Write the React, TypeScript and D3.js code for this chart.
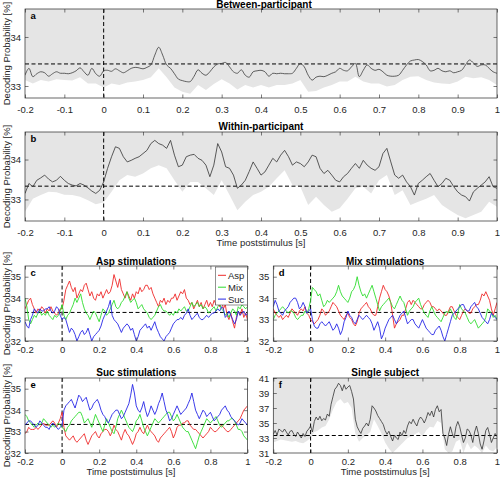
import React, { useEffect, useRef } from "react";
import * as d3 from "d3";

// time axes (s)
const tFine = d3.range(121).map((i) => +(-0.2 + i * 0.01).toFixed(2));
const tCoarse = d3.range(61).map((i) => +(-0.2 + i * 0.02).toFixed(2));

const xTicksA = d3.range(13).map((i) => +(-0.2 + i * 0.1).toFixed(1));
const xTicksC = [-0.2, 0, 0.2, 0.4, 0.6, 0.8, 1];
const yTicksAB = [33, 34];
const yTicksCDE = [32, 33, 34, 35];
const yTicksF = [31, 33, 35, 37, 39, 41];
const legendLabels = ["Asp", "Mix", "Suc"];

// Panel a: between-participant (mean) and lower permutation bound
const aLine = [
  33.22, 33.36, 33.19, 33.25, 33.29, 33.27, 33.2, 33.25, 33.29, 33.26,
  33.26, 33.25, 33.27, 33.31, 33.37, 33.29, 33.22, 33.36, 33.25, 33.2,
  33.31, 33.32, 33.3, 33.35, 33.31, 33.27, 33.31, 33.36, 33.38, 33.37,
  33.35, 33.38, 33.43, 33.63, 33.79, 33.63, 33.43, 33.36, 33.25, 33.14,
  33.11, 33.09, 33.09, 33.2, 33.33, 33.26, 33.22, 33.29, 33.39, 33.45,
  33.46, 33.48, 33.39, 33.29, 33.26, 33.33, 33.22, 33.18, 33.29, 33.31,
  33.32, 33.29, 33.2, 33.26, 33.25, 33.26, 33.25, 33.25, 33.26, 33.36,
  33.46, 33.39, 33.22, 33.12, 33.18, 33.2, 33.19, 33.22, 33.26, 33.29,
  33.36, 33.32, 33.31, 33.39, 33.46, 33.19, 33.32, 33.43, 33.36, 33.32,
  33.34, 33.29, 33.22, 33.2, 33.2, 33.22, 33.32, 33.43, 33.51, 33.53,
  33.54, 33.5, 33.43, 33.31, 33.32, 33.36, 33.31, 33.29, 33.31, 33.27,
  33.29, 33.32, 33.43, 33.53, 33.47, 33.4, 33.43, 33.43, 33.36, 33.29,
  33.26,
];
const aLow = [
  33.12, 33.05, 33.12, 33.09, 33.14, 33.12, 33.11, 33.18, 33.05, 33.05,
  32.97, 33.05, 33.02, 33.07, 33.09, 33.12, 33.18, 33.36, 33.18, 32.97,
  32.88, 32.84, 33.02, 32.92, 33.04, 33.14, 33.05, 32.93, 33.02, 32.97,
  33.02, 32.97, 33.02, 33.02, 33.05, 33.12, 32.88, 32.9, 32.97, 33.02,
  33.09, 33.09, 33.19, 33.09, 33.05, 33.05, 32.99, 33.02, 33.12, 33.19,
  33.2, 33.12, 33.07, 33.05, 33.04, 33.09, 33.19, 33.16, 33.18, 33.12,
  33.02,
];

// Panel b: within-participant
const bLine = [
  33.15, 33.4, 33.32, 33.48, 33.54, 33.61, 33.51, 33.44, 33.48, 33.58,
  33.48, 33.4, 33.36, 33.34, 33.4, 33.36, 33.29, 33.21, 33.15, 33.23,
  33.44, 33.78, 34.07, 34.32, 34.28, 34.07, 33.94, 33.98, 34.03, 34.07,
  34.15, 34.23, 34.4, 34.48, 34.4, 34.36, 34.28, 34.48, 34.11, 33.82,
  33.86, 34.07, 34.11, 34.13, 34.03, 33.98, 33.86, 33.57, 33.86, 34.4,
  34.19, 33.82, 33.78, 33.61, 33.28, 33.36, 33.48, 33.7, 33.94, 33.78,
  33.61, 33.69, 33.86, 34.03, 33.94, 34.11, 34.23, 34.07, 33.86, 33.94,
  33.9, 33.82, 33.94, 34.11, 34.07, 33.78, 33.65, 33.73, 33.61, 33.48,
  33.44, 33.57, 33.65, 33.78, 33.9, 33.78, 33.98, 33.86, 33.78, 33.73,
  33.82, 34.15, 34.28, 33.94, 33.61, 33.53, 33.61, 33.44, 33.32, 33.11,
  33.4, 33.48, 33.57, 33.65, 33.48, 33.32, 33.4, 33.53, 33.48, 33.32,
  33.19, 33.11, 33.07, 32.96, 33.19, 33.28, 33.36, 33.44, 33.57, 33.32,
  33.28,
];
const bLow = [
  32.69, 33.02, 33.11, 33.19, 33.18, 33.12, 33.11, 33.07, 32.98, 32.88,
  32.93, 33.19, 33.48, 33.61, 33.57, 33.65, 33.78, 33.86, 33.78, 33.48,
  33.19, 33.44, 33.44, 33.28, 33.11, 33.48, 33.11, 32.73, 32.94, 33.11,
  33.19, 33.32, 33.53, 33.73, 33.36, 33.32, 32.86, 33.07, 32.86, 32.69,
  32.78, 33.02, 33.28, 33.32, 33.15, 33.48, 33.61, 33.11, 33.23, 32.86,
  32.94, 33.02, 33.11, 32.86, 32.73, 32.61, 32.53, 32.61, 32.69, 32.94,
  32.82,
];

// Panel c: Asp stimulations
const cAsp = [
  33.5, 33.7, 33.9, 34.0, 33.7, 33.5, 33.3, 33.5, 33.4, 33.6,
  33.5, 33.3, 33.5, 33.4, 33.6, 33.4, 33.3, 33.2, 33.3, 33.5,
  33.5, 33.9, 34.4, 34.6, 34.8, 34.5, 34.3, 34.5, 34.0, 34.2,
  34.4, 34.3, 34.6, 34.7, 34.4, 34.1, 34.3, 34.0, 33.9, 34.2,
  34.1, 34.3, 34.0, 34.2, 34.4, 34.2, 34.3, 34.6, 35.1, 34.8,
  34.5, 34.9, 34.4, 34.2, 34.0, 34.3, 34.1, 33.9, 34.2, 34.0,
  34.3, 34.2, 34.5, 34.3, 34.4, 34.6, 34.6, 34.4, 34.5, 34.2,
  34.0, 33.8, 33.6, 33.9, 33.8, 34.0, 33.7, 33.9, 33.8, 34.0,
  34.0, 34.2, 33.9, 34.1, 34.3, 34.2, 34.4, 34.0, 33.9, 33.7,
  33.8, 33.5, 33.7, 33.9, 33.6, 33.8, 33.5, 33.7, 33.9, 33.6,
  33.8, 33.6, 33.9, 33.7, 33.8, 33.6, 33.9, 33.5, 33.7, 33.2,
  33.0, 33.3, 32.9, 32.6, 33.1, 33.4, 33.2, 33.5, 33.1, 33.3,
  33.0,
];
const cMix = [
  34.0, 33.6, 33.0, 32.8, 33.0, 33.2, 33.1, 33.3, 33.4, 33.2,
  33.3, 33.2, 33.4, 33.2, 33.1, 33.0, 33.2, 33.1, 33.2, 33.4,
  33.7, 33.2, 33.0, 33.2, 33.3, 33.5, 33.7, 34.0, 33.8, 34.0,
  34.2, 33.8, 33.5, 33.3, 33.2, 33.0, 33.2, 33.4, 33.3, 33.1,
  32.9, 33.2, 33.5, 33.4, 33.2, 33.3, 33.5, 33.7, 33.9, 33.6,
  33.5, 33.6, 33.8, 33.9, 34.1, 34.3, 34.0, 33.8, 33.9, 34.0,
  33.8, 33.5, 33.6, 33.7, 33.5, 33.4, 33.3, 33.1, 33.0, 33.1,
  33.2, 33.4, 33.6, 33.7, 33.5, 33.4, 33.4, 33.3, 33.2, 33.3,
  33.2, 33.4, 33.3, 33.5, 33.4, 33.5, 33.6, 33.4, 33.4, 33.6,
  33.8, 33.6, 33.7, 33.8, 33.6, 33.7, 33.5, 33.6, 33.5, 33.3,
  33.4, 33.5, 33.6, 33.4, 33.6, 33.7, 33.5, 33.4, 33.2, 33.3,
  33.1, 33.3, 33.5, 33.4, 33.2, 33.6, 33.5, 33.7, 33.6, 33.5,
  33.6,
];
const cSuc = [
  32.9, 32.7, 32.6, 33.0, 33.2, 33.5, 33.4, 33.3, 33.5, 33.4,
  33.4, 33.5, 33.5, 33.6, 33.4, 33.3, 33.4, 33.6, 33.5, 33.2,
  33.0, 33.1, 33.0, 32.7, 32.4, 32.6, 32.5, 32.3, 32.0, 32.2,
  32.4, 32.5, 32.3, 32.4, 32.6, 32.3, 32.0, 32.2, 32.3, 32.4,
  32.5, 32.7, 33.0, 33.2, 33.4, 33.6, 33.9, 33.2, 33.0, 32.9,
  32.8, 32.6, 32.4, 32.6, 32.7, 32.8, 32.7, 32.5, 32.6, 32.3,
  32.0, 32.2, 32.5, 32.6, 32.7, 32.8, 32.6, 32.7, 32.5, 32.7,
  32.9, 32.6, 32.4, 32.2, 32.1, 32.0, 32.2, 32.3, 32.4, 32.6,
  32.8, 32.9, 33.0, 33.0, 33.1, 33.0, 33.2, 33.3, 33.5, 33.2,
  33.0, 33.1, 33.2, 33.3, 33.1, 33.0, 33.0, 33.1, 33.2, 33.1,
  33.2, 33.3, 33.3, 33.4, 33.5, 33.4, 33.6, 33.5, 33.1, 33.2,
  33.4, 33.2, 33.0, 32.8, 33.0, 33.4, 33.2, 33.3, 33.4, 33.2,
  33.3,
];

// Panel d: Mix stimulations
const dAsp = [
  33.5, 33.3, 33.2, 33.1, 33.2, 33.0, 33.1, 33.2, 33.1, 33.3,
  33.5, 33.4, 33.3, 33.2, 33.4, 33.5, 33.4, 33.6, 33.3, 33.2,
  33.0, 32.9, 32.8, 32.9, 33.0, 33.2, 33.5, 33.4, 33.2, 33.3,
  33.4, 33.6, 33.8, 33.7, 33.6, 33.4, 33.2, 33.1, 33.0, 33.2,
  33.3, 33.1, 33.0, 32.8, 32.7, 32.9, 33.3, 33.5, 33.6, 33.7,
  33.8, 33.6, 33.5, 33.3, 33.2, 33.2, 33.6, 34.0, 34.3, 34.6,
  34.4, 34.3, 34.1, 33.8, 33.2, 32.6, 32.8, 32.9, 33.0, 33.2,
  33.2, 33.5, 33.8, 33.9, 33.7, 33.9, 33.8, 33.7, 33.6, 33.5,
  33.5, 33.7, 33.8, 33.9, 33.8, 33.6, 33.6, 33.5, 33.4, 33.5,
  33.4, 33.3, 33.2, 33.2, 33.4, 33.6, 33.6, 33.4, 33.2, 33.1,
  33.0, 33.2, 33.4, 33.5, 33.4, 33.3, 33.3, 33.5, 33.6, 33.7,
  33.7, 33.9, 34.2, 34.1, 34.3, 34.1, 33.9, 33.5, 33.2, 33.5,
  33.8,
];
const dMix = [
  33.0, 33.2, 33.3, 33.4, 33.5, 33.6, 33.5, 33.4, 33.3, 33.4,
  33.4, 33.3, 33.1, 33.0, 33.1, 33.2, 33.2, 33.4, 33.3, 33.5,
  33.9, 34.5, 34.4, 34.3, 34.1, 34.2, 33.9, 33.6, 33.7, 33.9,
  33.8, 33.9, 34.0, 34.1, 34.3, 34.6, 34.3, 34.1, 34.0, 33.9,
  33.8, 34.0, 34.3, 34.4, 34.6, 35.0, 34.6, 34.3, 34.1, 34.2,
  34.0, 34.2, 34.4, 34.6, 34.3, 34.0, 33.7, 33.4, 33.6, 33.7,
  33.8, 33.9, 34.0, 33.8, 33.6, 33.5, 33.7, 33.9, 34.1, 33.9,
  33.8, 33.5, 33.2, 33.4, 33.5, 33.6, 33.8, 33.9, 34.0, 33.7,
  33.5, 33.3, 33.2, 33.1, 33.4, 33.6, 33.4, 33.2, 33.1, 33.0,
  32.9, 33.1, 33.3, 33.4, 33.3, 33.5, 33.3, 33.1, 33.0, 33.3,
  33.7, 33.5, 33.4, 33.3, 33.1, 32.9, 32.8, 32.9, 33.0, 32.8,
  32.6, 32.7, 32.8, 32.9, 33.1, 33.5, 33.4, 33.3, 33.1, 33.2,
  33.0,
];
const dSuc = [
  33.6, 33.9, 33.7, 33.4, 33.3, 33.2, 33.4, 33.5, 33.6, 33.8,
  33.9, 34.0, 34.0, 33.8, 33.5, 33.6, 33.8, 33.6, 33.3, 33.4,
  33.5, 33.0, 32.7, 32.6, 32.6, 32.8, 32.9, 32.8, 32.7, 32.8,
  32.9, 32.7, 32.5, 32.6, 32.8, 32.6, 32.3, 32.5, 32.9, 33.1,
  33.4, 33.2, 33.1, 32.9, 32.8, 33.0, 33.2, 33.1, 33.0, 33.1,
  33.2, 33.1, 33.0, 32.8, 32.5, 32.7, 32.9, 32.6, 32.1, 32.3,
  32.6, 32.8, 33.0, 33.1, 33.2, 33.0, 32.8, 33.0, 33.2, 33.3,
  33.4, 33.1, 32.8, 32.9, 33.0, 33.0, 32.8, 32.7, 32.6, 32.8,
  33.0, 32.8, 32.6, 32.5, 32.4, 32.3, 32.3, 32.5, 32.6, 32.7,
  32.5, 32.2, 32.0, 32.3, 32.6, 32.9, 33.2, 33.3, 33.4, 33.5,
  33.6, 33.7, 33.7, 33.5, 33.4, 33.4, 33.6, 33.7, 33.8, 33.6,
  33.5, 33.3, 33.1, 33.0, 32.9, 32.8, 33.0, 33.3, 33.2, 33.1,
  33.0,
];

// Panel e: Suc stimulations
const eAsp = [
  32.9, 33.0, 33.2, 33.1, 33.1, 33.1, 33.2, 33.1, 33.2, 33.3,
  33.4, 33.3, 33.3, 33.3, 33.4, 33.5, 33.4, 33.2, 33.4, 33.6,
  33.9, 33.2, 32.8, 32.7, 32.6, 32.7, 32.8, 32.6, 32.5, 32.6,
  32.7, 32.8, 32.9, 32.6, 32.4, 32.6, 32.8, 32.9, 33.0, 32.8,
  32.7, 32.9, 33.0, 33.1, 33.1, 33.0, 32.8, 33.0, 33.3, 33.1,
  33.0, 32.8, 32.6, 32.9, 33.1, 32.9, 32.8, 32.6, 32.4, 32.6,
  32.9, 33.0, 33.2, 33.0, 32.9, 33.1, 33.3, 33.1, 33.0, 32.9,
  32.8, 32.6, 32.5, 32.7, 32.8, 32.9, 33.0, 33.1, 33.2, 33.0,
  32.7, 32.9, 33.2, 33.3, 33.3, 33.4, 33.4, 33.5, 33.5, 33.3,
  33.2, 33.1, 33.1, 33.0, 32.9, 32.8, 32.7, 32.8, 32.9, 33.0,
  33.2, 33.1, 33.0, 33.0, 33.1, 33.2, 33.3, 33.2, 33.1, 33.0,
  33.0, 33.1, 33.2, 33.3, 33.4, 33.5, 33.6, 33.8, 34.0, 34.1,
  34.2,
];
const eMix = [
  33.8, 33.7, 33.5, 33.4, 33.3, 33.2, 33.3, 33.4, 33.3, 33.4,
  33.6, 33.5, 33.4, 33.3, 33.2, 33.3, 33.2, 33.3, 33.4, 33.3,
  33.2, 33.1, 33.0, 33.2, 33.3, 33.5, 33.6, 33.7, 33.8, 33.9,
  33.9, 33.7, 33.4, 33.5, 33.6, 33.4, 33.2, 33.5, 33.8, 33.6,
  33.4, 33.2, 33.0, 33.3, 33.6, 33.4, 33.2, 33.0, 32.9, 33.2,
  33.6, 33.8, 34.0, 33.8, 33.6, 33.4, 33.2, 33.1, 33.0, 33.2,
  33.5, 33.6, 33.8, 33.5, 33.2, 33.0, 32.8, 33.0, 33.2, 33.4,
  33.6, 33.5, 33.4, 33.5, 33.6, 33.7, 33.8, 33.9, 33.9, 33.7,
  33.5, 33.6, 33.8, 33.6, 33.4, 33.2, 33.1, 33.0, 33.0, 32.8,
  32.6, 32.4, 32.2, 32.5, 32.8, 33.0, 33.2, 33.4, 33.6, 33.5,
  33.4, 33.5, 33.6, 33.7, 33.5, 33.3, 33.2, 33.3, 33.4, 33.5,
  33.5, 33.6, 33.6, 33.5, 33.3, 33.1, 33.1, 33.0, 32.8, 32.7,
  32.6,
];
const eSuc = [
  33.3, 33.4, 33.5, 33.5, 33.4, 33.3, 33.2, 33.3, 33.5, 33.4,
  33.3, 33.2, 33.2, 33.1, 33.3, 33.4, 33.3, 33.2, 33.1, 33.2,
  33.3, 34.0, 34.2, 34.3, 34.4, 34.5, 34.3, 34.1, 34.4, 34.7,
  34.6, 34.4, 34.5, 34.6, 34.3, 34.0, 34.1, 34.3, 34.4, 34.5,
  34.3, 34.0, 33.8, 33.7, 33.5, 33.4, 33.6, 33.8, 33.9, 34.0,
  34.0, 33.8, 33.6, 33.7, 33.9, 34.1, 34.3, 34.7, 35.2, 34.8,
  34.2, 34.0, 33.9, 34.1, 34.4, 34.0, 33.7, 33.9, 34.2, 34.0,
  33.8, 34.0, 34.3, 34.5, 34.8, 34.4, 34.0, 33.8, 33.5, 33.6,
  33.8, 34.0, 34.2, 34.0, 33.8, 33.9, 34.0, 34.1, 34.3, 34.5,
  34.8, 34.4, 34.0, 33.8, 33.6, 33.8, 34.0, 33.9, 33.7, 33.8,
  33.9, 33.7, 33.5, 33.6, 33.7, 33.8, 34.0, 34.1, 34.2, 34.0,
  33.9, 33.7, 33.6, 33.5, 33.4, 33.3, 33.4, 33.6, 33.5, 33.4,
  33.3,
];

// Panel f: single subject
const fLine = [
  33.5, 34.0, 33.4, 34.2, 34.0, 33.8, 34.2, 33.8, 33.4, 33.9,
  34.0, 33.5, 33.2, 33.8, 33.4, 33.0, 33.6, 33.2, 33.9, 34.2,
  34.6, 33.8, 35.2, 35.8, 35.4, 35.9, 35.3, 35.6, 35.4, 36.2,
  35.9, 37.5, 38.5, 39.5, 39.8, 40.3, 40.0, 39.3, 40.1, 39.5,
  39.8, 40.0, 39.2, 38.2, 35.5, 34.5, 34.0, 33.6, 34.3, 34.6,
  35.0, 34.6, 35.5, 37.3, 37.0, 36.6, 36.0, 35.6, 35.2, 34.8,
  34.0, 33.5, 33.9, 33.2, 32.6, 33.4, 33.0, 32.8, 33.8, 33.3,
  34.0, 33.6, 34.6, 35.2, 34.9, 35.5, 35.0, 34.6, 35.4, 35.8,
  35.5, 35.0, 35.6, 36.4, 36.0, 36.6, 35.8, 36.8, 37.3, 36.5,
  36.8, 33.6, 33.0, 32.0, 33.5, 34.5, 33.6, 33.0, 34.5, 35.2,
  34.5, 33.4, 32.4, 33.0, 34.2, 34.0, 33.4, 32.4, 33.8, 34.6,
  33.6, 32.2, 31.5, 32.6, 34.0, 34.4, 33.5, 32.4, 33.0, 33.6,
  33.2,
];
const fLow = [
  32.4, 32.6, 32.8, 32.7, 32.6, 32.5, 32.6, 32.4, 32.3, 32.6,
  33.0, 33.8, 34.0, 34.4, 34.6, 35.5, 36.8, 37.8, 38.2, 37.6,
  37.8, 37.0, 33.6, 32.5, 33.0, 33.4, 33.8, 35.5, 34.6, 33.6,
  32.4, 31.6, 31.0, 31.5, 32.0, 32.5, 33.0, 33.2, 33.5, 33.8,
  33.2, 34.0, 34.5, 34.4, 35.3, 35.0, 31.5, 31.0, 31.2, 32.5,
  32.8, 31.0, 32.4, 31.5, 32.0, 31.6, 31.0, 32.0, 31.4, 31.2,
  31.8,
];

const RED = "#ee2a2a";
const GREEN = "#2edc2e";
const BLUE = "#2626e6";
const DARK = "#333333";
const AX = "#262626";
const FONT = "'Liberation Sans', Arial, Helvetica, sans-serif";

type Series = { values: number[]; color: string; width: number; smooth?: boolean };
type Panel = {
  id: string;
  left: number; right: number; top: number; bottom: number;
  yDomain: [number, number];
  yTicks: number[];
  xTicks: number[];
  xPad: number;
  chance: number;
  low?: number[];
  series: Series[];
  title: string; titleY: number; titleX?: number;
  letter: string; letterY: number;
  ylabel?: boolean;
  xlabelY?: number; xlabelX?: number;
  legend?: boolean;
};

const panels: Panel[] = [
  {
    id: "a", left: 25, right: 497, top: 9, bottom: 98,
    yDomain: [32.755, 34.571], yTicks: yTicksAB, xTicks: xTicksA, xPad: 8.5,
    chance: 33.45, low: aLow,
    series: [{ values: aLine, color: "#3c3c3c", width: 0.8, smooth: true }],
    title: "Between-participant", titleY: 8, titleX: 264, letter: "a", letterY: 19, ylabel: true,
  },
  {
    id: "b", left: 25, right: 497, top: 132, bottom: 221,
    yDomain: [32.46, 34.69], yTicks: yTicksAB, xTicks: xTicksA, xPad: 7.8,
    chance: 33.333, low: bLow,
    series: [{ values: bLine, color: DARK, width: 0.8 }],
    title: "Within-participant", titleY: 129.5, letter: "b", letterY: 141.5, ylabel: true,
    xlabelY: 245.5,
  },
  {
    id: "c", left: 25, right: 247.5, top: 266, bottom: 341,
    yDomain: [32, 35.5], yTicks: yTicksCDE, xTicks: xTicksC, xPad: 5.7,
    chance: 33.333,
    series: [
      { values: cAsp, color: RED, width: 0.9 },
      { values: cMix, color: GREEN, width: 0.9 },
      { values: cSuc, color: BLUE, width: 0.9 },
    ],
    title: "Asp stimulations", titleY: 264.5, letter: "c", letterY: 276, ylabel: true, legend: true,
  },
  {
    id: "d", left: 273.3, right: 497, top: 266, bottom: 341,
    yDomain: [32, 35.5], yTicks: yTicksCDE, xTicks: xTicksC, xPad: 5.7,
    chance: 33.333,
    series: [
      { values: dAsp, color: RED, width: 0.9 },
      { values: dMix, color: GREEN, width: 0.9 },
      { values: dSuc, color: BLUE, width: 0.9 },
    ],
    title: "Mix stimulations", titleY: 264.5, letter: "d", letterY: 276,
  },
  {
    id: "e", left: 25, right: 247.5, top: 378, bottom: 453,
    yDomain: [32, 35.5], yTicks: yTicksCDE, xTicks: xTicksC, xPad: 5.7,
    chance: 33.333,
    series: [
      { values: eAsp, color: RED, width: 0.9 },
      { values: eMix, color: GREEN, width: 0.9 },
      { values: eSuc, color: BLUE, width: 0.9 },
    ],
    title: "Suc stimulations", titleY: 376, letter: "e", letterY: 388, ylabel: true,
    xlabelY: 475, xlabelX: 131,
  },
  {
    id: "f", left: 273.3, right: 497, top: 378, bottom: 453,
    yDomain: [31, 41], yTicks: yTicksF, xTicks: xTicksC, xPad: 5.7,
    chance: 33.333, low: fLow,
    series: [{ values: fLine, color: DARK, width: 0.8 }],
    title: "Single subject", titleY: 376, letter: "f", letterY: 388,
    xlabelY: 475,
  },
];

const fmtX = (v: number) => (Math.abs(v) < 1e-9 ? "0" : String(+v.toFixed(1)));

function drawPanel(svg: d3.Selection<SVGSVGElement, unknown, null, undefined>, p: Panel) {
  const x = d3.scaleLinear().domain([-0.2, 1]).range([p.left, p.right]);
  const y = d3.scaleLinear().domain(p.yDomain).range([p.bottom, p.top]);
  const g = svg.append("g");
  const clipId = "clip-" + p.id;
  svg.append("defs").append("clipPath").attr("id", clipId).append("rect")
    .attr("x", p.left).attr("y", p.top)
    .attr("width", p.right - p.left).attr("height", p.bottom - p.top);
  const plot = g.append("g").attr("clip-path", `url(#${clipId})`);

  if (p.low) {
    plot.append("rect").attr("x", p.left).attr("y", p.top)
      .attr("width", p.right - p.left).attr("height", p.bottom - p.top)
      .attr("fill", "#e5e5e5");
    const area = d3.area<number>()
      .x((_, i) => x(tCoarse[i]))
      .y0(y(p.yDomain[0]))
      .y1((d) => y(d));
    plot.append("path").datum(p.low).attr("d", area).attr("fill", "#ffffff");
  }

  plot.append("line")
    .attr("x1", x(-0.2)).attr("x2", x(1))
    .attr("y1", y(p.chance)).attr("y2", y(p.chance))
    .attr("stroke", "#000").attr("stroke-width", 1).attr("stroke-dasharray", "4,2.5");
  plot.append("line")
    .attr("x1", x(0)).attr("x2", x(0))
    .attr("y1", p.top).attr("y2", p.bottom)
    .attr("stroke", "#000").attr("stroke-width", 1).attr("stroke-dasharray", "4,2.5");

  p.series.forEach((s) => {
    const line = d3.line<number>()
      .x((_, i) => x(tFine[i]))
      .y((d) => y(d))
      .curve(s.smooth ? d3.curveCatmullRom : d3.curveLinear);
    plot.append("path").datum(s.values).attr("d", line)
      .attr("fill", "none").attr("stroke", s.color).attr("stroke-width", s.width)
      .attr("stroke-linejoin", "round");
  });

  const styleAxis = (sel: d3.Selection<SVGGElement, unknown, null, undefined>) => {
    sel.select(".domain").remove();
    sel.selectAll(".tick line").attr("stroke", AX).attr("stroke-width", 0.6);
    sel.selectAll(".tick text").attr("fill", AX);
    sel.attr("font-family", FONT).attr("font-size", 9.5);
  };

  const tick = 3.5;
  g.append("g").attr("transform", `translate(0,${p.bottom})`)
    .call(d3.axisBottom(x).tickValues(p.xTicks).tickSize(-tick).tickPadding(p.xPad).tickFormat((d) => fmtX(+d)))
    .call(styleAxis);
  g.append("g").attr("transform", `translate(0,${p.top})`)
    .call(d3.axisTop(x).tickValues(p.xTicks).tickSize(-tick).tickFormat(() => ""))
    .call(styleAxis);
  g.append("g").attr("transform", `translate(${p.left},0)`)
    .call(d3.axisLeft(y).tickValues(p.yTicks).tickSize(-tick).tickPadding(4).tickFormat((d) => String(d)))
    .call(styleAxis);
  g.append("g").attr("transform", `translate(${p.right},0)`)
    .call(d3.axisRight(y).tickValues(p.yTicks).tickSize(-tick).tickFormat(() => ""))
    .call(styleAxis);

  g.append("rect").attr("x", p.left).attr("y", p.top)
    .attr("width", p.right - p.left).attr("height", p.bottom - p.top)
    .attr("fill", "none").attr("stroke", AX).attr("stroke-width", 0.7);

  const cx = p.titleX ?? (p.left + p.right) / 2;
  g.append("text").attr("x", cx).attr("y", p.titleY)
    .attr("text-anchor", "middle").attr("font-family", FONT).attr("font-weight", "bold")
    .attr("font-size", 10).attr("fill", "#000").text(p.title);

  g.append("text").attr("x", p.left + 5.5).attr("y", p.letterY)
    .attr("font-family", FONT).attr("font-weight", "bold")
    .attr("font-size", 9.5).attr("fill", "#000").text(p.letter);

  if (p.ylabel) {
    g.append("text")
      .attr("transform", `translate(9.5,${(p.top + p.bottom) / 2}) rotate(-90)`)
      .attr("text-anchor", "middle").attr("font-family", FONT).attr("font-size", 9.5)
      .attr("fill", AX).text("Decoding Probability [%]");
  }
  if (p.xlabelY !== undefined) {
    g.append("text").attr("x", p.xlabelX ?? (p.left + p.right) / 2).attr("y", p.xlabelY)
      .attr("text-anchor", "middle").attr("font-family", FONT).attr("font-size", 9.5)
      .attr("fill", AX).text("Time poststimulus [s]");
  }

  if (p.legend) {
    const lw = 32, lh = 38;
    const lx = p.right - lw, ly = p.top + 1;
    const lg = g.append("g");
    lg.append("rect").attr("x", lx).attr("y", ly).attr("width", lw).attr("height", lh)
      .attr("fill", "#fff").attr("stroke", AX).attr("stroke-width", 0.5);
    p.series.forEach((s, i) => {
      const yy = ly + 8.3 + i * 11.9;
      lg.append("line").attr("x1", lx + 2.5).attr("x2", lx + 10.5)
        .attr("y1", yy).attr("y2", yy).attr("stroke", s.color).attr("stroke-width", 1);
      lg.append("text").attr("x", lx + 12.5).attr("y", yy + 3.4)
        .attr("font-family", FONT).attr("font-size", 9.5).attr("fill", AX)
        .text(legendLabels[i]);
    });
  }
}

export default function App() {
  const ref = useRef<SVGSVGElement | null>(null);
  useEffect(() => {
    if (!ref.current) return;
    const svg = d3.select(ref.current);
    svg.selectAll("*").remove();
    svg.append("rect").attr("width", 500).attr("height", 480).attr("fill", "#fff");
    panels.forEach((p) => drawPanel(svg, p));
  }, []);
  return (
    <svg
      ref={ref}
      width={500}
      height={480}
      style={{ position: "absolute", left: 0, top: 0, background: "#fff" }}
    />
  );
}
